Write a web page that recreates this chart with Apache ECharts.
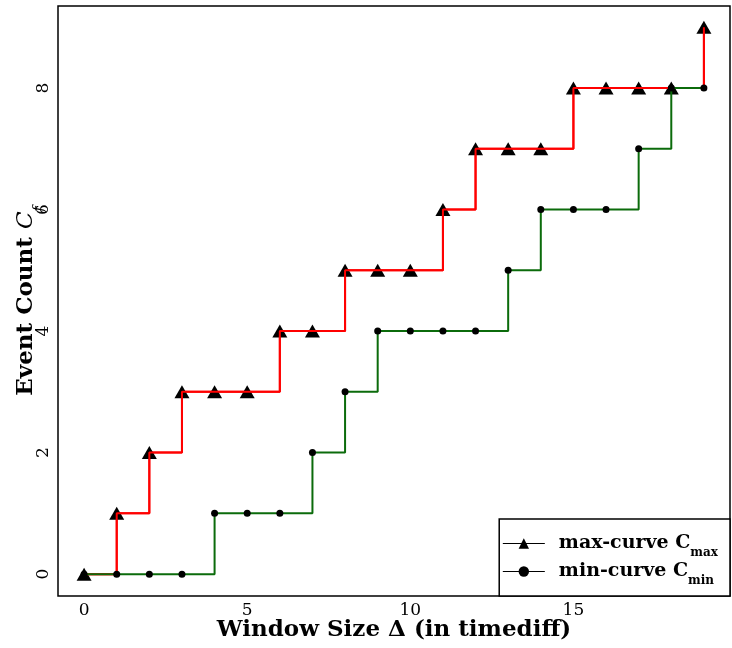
<!DOCTYPE html>
<html>
<head>
<meta charset="utf-8">
<script src="https://cdn.jsdelivr.net/npm/echarts@6/dist/echarts.min.js"></script>
<style>html,body{margin:0;padding:0;background:#fff}#c{width:732px;height:648px}</style>
</head>
<body>
<div id="c"></div>
<script>
const windowSizes = [0,1,2,3,4,5,6,7,8,9,10,11,12,13,14,15,16,17,18,19];
const maxCurve = [0,1,2,3,3,3,4,4,5,5,5,6,7,7,7,8,8,8,8,9];
const minCurve = [0,0,0,0,1,1,1,2,3,4,4,4,4,5,6,6,6,7,8,8];
const xTicks = [0,5,10,15];
const yTicks = [0,2,4,6,8];

const pair = arr => windowSizes.map((x,i)=>[x,arr[i]]);
const FONT = 'DejaVu Serif';
const chart = echarts.init(document.getElementById('c'), null, {renderer:'canvas'});
chart.setOption({
  animation:false,
  backgroundColor:'#fff',
  grid:{left:58, right:2, top:6, bottom:52, outerBoundsMode:'none', containLabel:false,
        show:true, borderColor:'#000', borderWidth:1.5, backgroundColor:'transparent'},
  xAxis:{
    type:'value', min:-0.8, max:19.8,
    axisLine:{show:false}, axisTick:{show:false}, splitLine:{show:false},
    axisLabel:{customValues:xTicks, fontFamily:FONT, fontSize:17, color:'#000', margin:6},
    name:'Window Size Δ (in timediff)', nameLocation:'middle', nameGap:23, nameMoveOverlap:false,
    nameTextStyle:{fontFamily:FONT, fontWeight:'bold', fontSize:23, color:'#000'}
  },
  yAxis:{
    type:'value', min:-0.36, max:9.35,
    axisLine:{show:false}, axisTick:{show:false}, splitLine:{show:false},
    axisLabel:{customValues:yTicks, rotate:90, fontFamily:FONT, fontSize:17, color:'#000', margin:6},
    name:'{b|Event Count }{i|C}{s|f}', nameLocation:'middle', nameGap:20, nameMoveOverlap:false,
    nameTextStyle:{color:'#000', rich:{
      b:{fontFamily:FONT, fontWeight:'bold', fontSize:23, color:'#000'},
      i:{fontFamily:FONT, fontStyle:'italic', fontSize:23, color:'#000'},
      s:{fontFamily:FONT, fontStyle:'italic', fontSize:14, color:'#000', verticalAlign:'bottom', padding:[0,0,-8,0]}
    }}
  },
  legend:{
    orient:'vertical', right:2, bottom:52,
    backgroundColor:'#fff', borderColor:'#000', borderWidth:1.5, borderRadius:0,
    padding:[15,12,9,3], itemGap:3, itemWidth:42, itemHeight:13,
    data:[
      {name:'max', itemStyle:{color:'#000'}, lineStyle:{color:'#000', width:1.2}},
      {name:'min', itemStyle:{color:'#000'}, lineStyle:{color:'#000', width:1.2}}
    ],
    formatter: n => n==='max' ? '{b|max-curve C}{s|max}' : '{b|min-curve C}{s|min}',
    textStyle:{padding:[0,0,0,9], rich:{
      b:{fontFamily:FONT, fontWeight:'bold', fontSize:19, color:'#000'},
      s:{fontFamily:FONT, fontWeight:'bold', fontSize:12, color:'#000', verticalAlign:'bottom', padding:[0,0,-6,0]}
    }}
  },
  series:[
    {name:'max', type:'line', step:'end', data:pair(maxCurve), z:2,
     symbol:'triangle', symbolSize:[15,13], itemStyle:{color:'#000'},
     lineStyle:{color:'#ff0000', width:2}},
    {name:'maxLine', type:'line', step:'end', data:pair(maxCurve), z:3, showSymbol:false,
     lineStyle:{color:'#ff0000', width:2}, silent:true},
    {name:'min', type:'line', step:'end', data:pair(minCurve), z:4,
     symbol:'circle', symbolSize:7, itemStyle:{color:'#000'},
     lineStyle:{color:'#0b6b0b', width:2}}
  ]
});
</script>
</body>
</html>
